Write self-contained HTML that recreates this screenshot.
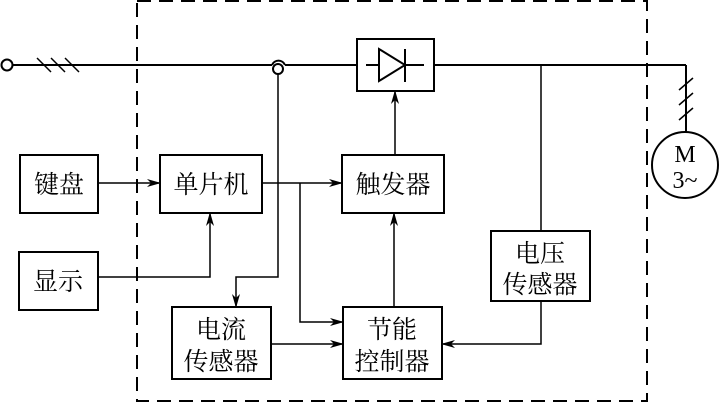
<!DOCTYPE html>
<html><head><meta charset="utf-8"><style>
html,body{margin:0;padding:0;background:#fff;}
text{font-family:"Liberation Serif","Noto Serif CJK SC",serif;font-size:25px;fill:#000;}
</style></head><body>
<svg width="720" height="404" viewBox="0 0 720 404" xmlns="http://www.w3.org/2000/svg">
<defs><marker id="a" markerWidth="14" markerHeight="8" refX="13" refY="4" orient="auto" markerUnits="userSpaceOnUse"><path d="M0,0 L14,4 L0,8 L4,4 Z" fill="#000"/></marker></defs>
<g fill="none" stroke="#000" stroke-width="2">
<rect x="137" y="1" width="510" height="400" stroke-dasharray="14,8"/>
<circle cx="7" cy="65" r="5.5"/>
<line x1="13" y1="65" x2="272" y2="65"/>
<path d="M272,65 A7,7 0 0 1 285,65"/>
<circle cx="278" cy="69" r="5"/>
<line x1="285" y1="65" x2="686" y2="65"/>
<line x1="686" y1="65" x2="686" y2="132"/>
<line x1="37" y1="58" x2="51" y2="72" stroke-width="1.5"/><line x1="51" y1="58" x2="65" y2="72" stroke-width="1.5"/><line x1="65" y1="58" x2="79" y2="72" stroke-width="1.5"/>
<line x1="679" y1="90" x2="693" y2="78" stroke-width="1.5"/><line x1="679" y1="105" x2="693" y2="93" stroke-width="1.5"/><line x1="679" y1="120" x2="693" y2="108" stroke-width="1.5"/>
<circle cx="685" cy="165" r="33"/>
<rect x="357" y="39" width="77" height="52" fill="#fff"/>
<line x1="366" y1="65" x2="424" y2="65"/>
<path d="M379,49 L379,81 L405,65 Z" fill="#fff"/>
<line x1="405" y1="49" x2="405" y2="82"/>
<rect x="20" y="155" width="78" height="58"/>
<rect x="160" y="155" width="102" height="58"/>
<rect x="342" y="155" width="102" height="58"/>
<rect x="19" y="252" width="79" height="58"/>
<rect x="172" y="307" width="99" height="72"/>
<rect x="343" y="307" width="99" height="72"/>
<rect x="491" y="231" width="99" height="70"/>
<g stroke-width="1.5">
<line x1="98" y1="183" x2="160" y2="183" marker-end="url(#a)"/>
<line x1="262" y1="183" x2="342" y2="183" marker-end="url(#a)"/>
<polyline points="300,183 300,322 343,322" marker-end="url(#a)"/>
<polyline points="98,277 210,277 210,213" marker-end="url(#a)"/>
<polyline points="278,74 278,277 236,277 236,307" marker-end="url(#a)"/>
<line x1="271" y1="344" x2="343" y2="344" marker-end="url(#a)"/>
<line x1="394" y1="307" x2="394" y2="213" marker-end="url(#a)"/>
<line x1="395" y1="155" x2="395" y2="91" marker-end="url(#a)"/>
<line x1="541" y1="65" x2="541" y2="231"/>
<polyline points="541,301 541,344 442,344" marker-end="url(#a)"/>
</g>
</g>
<text x="59" y="193" text-anchor="middle">键盘</text>
<text x="211" y="193" text-anchor="middle">单片机</text>
<text x="393" y="193" text-anchor="middle">触发器</text>
<text x="58" y="290" text-anchor="middle">显示</text>
<text x="221" y="338" text-anchor="middle">电流</text>
<text x="221" y="370" text-anchor="middle">传感器</text>
<text x="392" y="338" text-anchor="middle">节能</text>
<text x="392" y="370" text-anchor="middle">控制器</text>
<text x="540" y="262" text-anchor="middle">电压</text>
<text x="540" y="293" text-anchor="middle">传感器</text>
<text x="685" y="162" text-anchor="middle" style="font-size:24px">M</text>
<text x="685" y="188" text-anchor="middle" style="font-size:24px">3~</text>
</svg>
</body></html>
